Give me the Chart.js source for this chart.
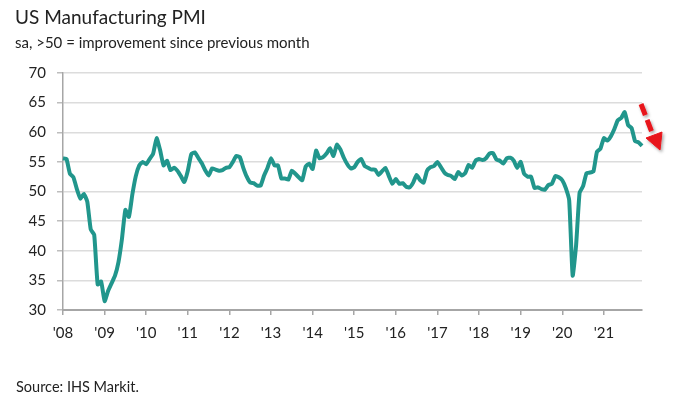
<!DOCTYPE html>
<html>
<head>
<meta charset="utf-8">
<script src="https://cdn.jsdelivr.net/npm/chart.js@4"></script>
<style>
  body { margin: 0; background: #fff; }
  #wrap { position: relative; width: 700px; height: 394px; font-family: Lato, "Open Sans", sans-serif; color: #222; }
  #wrap canvas { position: absolute; left: 0; top: 0; }
  .txt { position: absolute; left: 15px; white-space: nowrap; }
  #title { top: 5px; font-size: 19px; }
  #subtitle { top: 33px; font-size: 15px; }
  #source { top: 378px; font-size: 14.5px; left: 16px; }
  #arrow { position: absolute; left: 630px; top: 95px; }
</style>
</head>
<body>
<div id="wrap">
  <canvas id="pmi" width="700" height="394"></canvas>
  <div class="txt" id="title">US Manufacturing PMI</div>
  <div class="txt" id="subtitle">sa, &gt;50 = improvement since previous month</div>
  <div class="txt" id="source">Source: IHS Markit.</div>
  <svg id="arrow" width="45" height="65">
    <defs>
      <filter id="sh" x="-50%" y="-50%" width="200%" height="200%">
        <feDropShadow dx="1.5" dy="2" stdDeviation="1.5" flood-color="#000" flood-opacity="0.35"/>
      </filter>
    </defs>
    <g filter="url(#sh)" fill="#e8141b" stroke="#e8141b">
      <line x1="11" y1="9" x2="23" y2="40" stroke-width="5" stroke-dasharray="12 5"/>
      <polygon points="16,43 32,37 30,55" stroke-width="1"/>
    </g>
  </svg>
</div>
<script>
// Monthly US Manufacturing PMI readings, Jan to Dec of each year
const years = [2008, 2009, 2010, 2011, 2012, 2013, 2014, 2015, 2016, 2017, 2018, 2019, 2020, 2021];
const pmi2008 = [55.6, 55.5, 53.0, 52.4, 50.4, 48.8, 49.6, 48.3, 43.6, 42.7, 34.3, 34.8];
const pmi2009 = [31.5, 33.2, 34.5, 35.8, 38.1, 42.0, 46.9, 45.7, 49.5, 52.6, 54.4, 55.0];
const pmi2010 = [54.6, 55.5, 56.4, 59.0, 57.0, 54.4, 55.2, 53.6, 54.0, 53.5, 52.6, 51.6];
const pmi2011 = [53.5, 56.3, 56.6, 55.7, 54.8, 53.6, 52.7, 53.9, 53.7, 53.5, 53.6, 54.0];
const pmi2012 = [54.1, 55.0, 56.0, 55.8, 54.0, 52.5, 51.5, 51.4, 51.0, 51.0, 52.7, 54.0];
const pmi2013 = [55.6, 54.4, 54.4, 52.2, 52.2, 52.0, 53.5, 53.0, 52.4, 51.9, 54.2, 54.7];
const pmi2014 = [53.8, 56.9, 55.6, 55.8, 56.4, 57.3, 56.0, 57.9, 57.1, 55.7, 54.6, 53.9];
const pmi2015 = [54.1, 55.0, 55.5, 54.3, 54.0, 53.7, 53.7, 52.8, 53.4, 54.0, 52.6, 51.3];
const pmi2016 = [52.1, 51.3, 51.4, 50.8, 50.7, 51.5, 52.8, 51.9, 51.5, 53.5, 54.1, 54.3];
const pmi2017 = [55.0, 54.1, 53.2, 52.8, 52.6, 52.1, 53.3, 52.7, 53.1, 54.5, 54.0, 55.2];
const pmi2018 = [55.5, 55.3, 55.6, 56.4, 56.5, 55.4, 55.2, 54.7, 55.6, 55.7, 55.2, 54.0];
const pmi2019 = [55.0, 53.0, 52.5, 52.5, 50.6, 50.7, 50.4, 50.3, 51.1, 51.3, 52.6, 52.4];
const pmi2020 = [51.9, 50.6, 48.5, 35.8, 41.0, 49.8, 50.9, 53.1, 53.2, 53.4, 56.7, 57.2];
const pmi2021 = [59.0, 58.6, 59.3, 60.5, 62.0, 62.4, 63.4, 61.2, 60.7, 58.5, 58.3, 57.7];

// y axis range
const yMin = 30, yMax = 70, yStep = 5;

const pmiValues = [].concat(pmi2008, pmi2009, pmi2010, pmi2011, pmi2012, pmi2013, pmi2014,
  pmi2015, pmi2016, pmi2017, pmi2018, pmi2019, pmi2020, pmi2021);

// one label per month, e.g. 2008-01
const monthLabels = [];
years.forEach(y => {
  for (let m = 1; m <= 12; m++) monthLabels.push(y + '-' + String(m).padStart(2, '0'));
});

const axisColour = '#a6a6a6';
const gridColour = '#dcdcdc';
const tickFont = { family: 'Lato, "Open Sans", sans-serif', size: 15 };

new Chart(document.getElementById('pmi'), {
  type: 'line',
  data: {
    labels: monthLabels,
    datasets: [{
      data: pmiValues,
      borderColor: '#21968c',
      borderWidth: 4,
      pointRadius: 0,
      tension: 0.15,
      fill: false
    }]
  },
  options: {
    responsive: false,
    animation: false,
    layout: { padding: { top: 73, right: 58, left: 0, bottom: 0 } },
    plugins: { legend: { display: false }, tooltip: { enabled: false } },
    scales: {
      x: {
        afterBuildTicks: scale => {
          // keep only January ticks
          scale.ticks = scale.ticks.filter(t => t.value % 12 === 0);
        },
        afterFit: scale => { scale.height = 84; },
        grid: { drawOnChartArea: false, drawTicks: true, tickLength: 5, color: axisColour, lineWidth: 1.5 },
        border: { color: axisColour, width: 2 },
        ticks: {
          autoSkip: false,
          maxRotation: 0,
          padding: 9,
          color: '#222',
          font: tickFont,
          callback: function (value) {
            return "'" + this.getLabelForValue(value).slice(2, 4);
          }
        }
      },
      y: {
        min: yMin,
        max: yMax,
        afterFit: scale => { scale.width = 63; },
        grid: { color: gridColour, lineWidth: 1.5, tickLength: 6, tickColor: '#bdbdbd' },
        border: { color: axisColour, width: 1.5 },
        ticks: { stepSize: yStep, padding: 11, color: '#222', font: tickFont }
      }
    }
  }
});
</script>
</body>
</html>
